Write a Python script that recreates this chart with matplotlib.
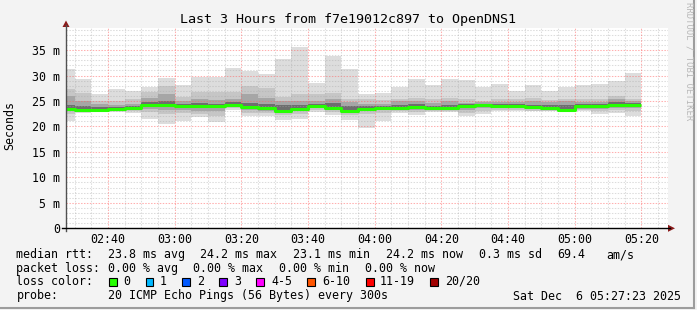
import matplotlib
matplotlib.use("Agg")
import matplotlib.pyplot as plt
from matplotlib.lines import Line2D
from matplotlib.patches import Polygon, Rectangle

# ---------------- data ----------------
title = "Last 3 Hours from f7e19012c897 to OpenDNS1"
slot_start = ["02:25", "02:30", "02:35", "02:40", "02:45", "02:50", "02:55",
              "03:00", "03:05", "03:10", "03:15", "03:20", "03:25", "03:30",
              "03:35", "03:40", "03:45", "03:50", "03:55", "04:00", "04:05",
              "04:10", "04:15", "04:20", "04:25", "04:30", "04:35", "04:40",
              "04:45", "04:50", "04:55", "05:00", "05:05", "05:10", "05:15"]
median_ms = [23.5, 23.2, 23.2, 23.4, 23.6, 24.2, 24.2, 24.0, 24.0, 24.0, 24.2, 23.8,
             23.6, 23.1, 23.5, 24.1, 23.6, 23.1, 23.4, 23.6, 23.7, 23.9, 23.6, 23.7,
             24.0, 24.2, 24.0, 24.1, 23.8, 23.7, 23.2, 24.0, 24.0, 24.2, 24.2]
ping_max = [31.3, 29.3, 26.3, 27.4, 27.0, 27.7, 29.6, 28.2, 29.8, 29.8, 31.5, 30.9,
            30.3, 33.3, 35.5, 28.6, 33.8, 31.3, 26.3, 26.6, 27.8, 29.3, 28.2, 29.3,
            29.1, 27.8, 28.4, 26.9, 28.2, 27.0, 27.8, 28.1, 28.4, 29.0, 30.4]
ping_q90 = [27.3, 26.6, 25.0, 25.0, 25.3, 26.7, 28.0, 25.7, 26.7, 26.7, 26.8, 27.9,
            27.6, 25.8, 26.3, 26.3, 26.6, 25.3, 25.4, 25.1, 25.4, 25.6, 25.3, 25.5,
            25.4, 25.0, 25.3, 25.3, 25.6, 25.1, 25.3, 25.3, 25.3, 26.0, 25.3]
ping_q75 = [25.9, 25.0, 24.4, 24.2, 24.5, 25.6, 26.3, 25.0, 25.3, 25.2, 25.4, 26.3,
            25.6, 25.0, 25.0, 25.0, 25.3, 24.8, 24.5, 24.5, 24.9, 25.0, 24.6, 25.0,
            24.7, 24.8, 24.8, 24.8, 24.9, 24.8, 25.0, 24.8, 24.8, 25.3, 25.0]
ping_q60 = [24.3, 24.0, 23.8, 23.8, 24.0, 24.8, 25.0, 24.5, 24.6, 24.5, 24.8, 24.7,
            24.5, 24.2, 24.2, 24.5, 24.7, 24.0, 24.0, 24.0, 24.3, 24.5, 24.1, 24.3,
            24.4, 24.5, 24.4, 24.5, 24.3, 24.2, 24.3, 24.4, 24.4, 24.8, 24.6]
ping_q40 = [23.3, 23.1, 23.1, 23.2, 23.4, 24.0, 24.0, 23.8, 23.6, 23.8, 24.1, 23.6,
            23.4, 23.0, 23.4, 24.0, 23.5, 23.0, 23.3, 23.5, 23.6, 23.7, 23.5, 23.6,
            23.8, 24.0, 23.9, 24.0, 23.7, 23.6, 23.1, 23.9, 23.9, 24.1, 24.1]
ping_q25 = [23.0, 22.9, 23.0, 23.1, 23.3, 23.5, 23.2, 23.3, 23.0, 23.0, 23.9, 23.2,
            23.1, 22.9, 23.1, 23.7, 23.3, 22.8, 23.1, 23.2, 23.3, 23.3, 23.3, 23.3,
            23.2, 23.6, 23.6, 23.7, 23.4, 23.3, 23.0, 23.5, 23.5, 23.7, 23.7]
ping_q10 = [22.5, 22.8, 22.9, 23.0, 23.0, 22.8, 22.5, 22.6, 22.4, 22.0, 23.7, 22.7,
            22.6, 22.3, 22.5, 23.3, 22.9, 22.2, 22.5, 22.6, 23.0, 22.8, 23.0, 23.0,
            22.6, 23.0, 23.3, 23.3, 23.1, 23.1, 22.9, 23.2, 23.0, 23.2, 23.0]
ping_min = [21.0, 22.6, 22.8, 22.9, 22.6, 21.5, 20.5, 21.1, 21.8, 20.9, 23.3, 22.1,
            22.1, 21.3, 21.5, 22.8, 22.3, 21.3, 19.7, 21.0, 22.7, 22.3, 22.8, 22.8,
            22.1, 22.5, 23.0, 23.0, 23.0, 23.0, 22.9, 23.0, 22.5, 22.7, 22.1]
x_tick_labels = ["02:40", "03:00", "03:20", "03:40", "04:00", "04:20", "04:40", "05:00", "05:20"]
y_tick_values = [0, 5, 10, 15, 20, 25, 30, 35]
window_start = "02:27:23"
window_minutes = 180

legend_rows = [
    [("median rtt:", 16.4), ("23.8 ms avg", 107.6), ("24.2 ms max", 200.0),
     ("23.1 ms min", 293.3), ("24.2 ms now", 386.4), ("0.3 ms sd", 479.3),
     ("69.4", 557.7), ("am/s", 606.7)],
    [("packet loss:", 16.4), ("0.00 % avg", 107.6), ("0.00 % max", 193.3),
     ("0.00 % min", 279.0), ("0.00 % now", 364.6)],
    [("loss color:", 16.4)],
    [("probe:", 16.4), ("20 ICMP Echo Pings (56 Bytes) every 300s", 107.6),
     ("Sat Dec  6 05:27:23 2025", 513.3)],
]
loss_labels = ["0", "1", "2", "3", "4-5", "6-10", "11-19", "20/20"]
loss_colors = ["#26ff00", "#00b8ff", "#0059ff", "#7e00ff", "#ff00ff", "#ff5500", "#ff0000", "#a00000"]
loss_box_x = [109.0, 145.8, 182.3, 219.3, 256.2, 307.2, 366.0, 430.0]
loss_text_x = [123.6, 160.0, 197.0, 234.0, 271.0, 321.8, 380.0, 445.0]

# ---------------- helpers ----------------
W, H = 697, 310
def hm(s):
    p = [int(v) for v in s.split(":")]
    return p[0] * 60 + p[1] + (p[2] / 60 if len(p) > 2 else 0)
def fx(px):
    return px / W
def fy(py):
    return 1 - py / H

MONO = "DejaVu Sans Mono"
FS = 8.4

starts = [hm(s) for s in slot_start]
x0 = hm(window_start)

fig = plt.figure(figsize=(W / 100, H / 100), dpi=100, facecolor="#f3f3f3")
ax_l, ax_r, ax_t, ax_b = 66, 668, 27.7, 228.3
ax = fig.add_axes([fx(ax_l), fy(ax_b), (ax_r - ax_l) / W, (ax_b - ax_t) / H])
ax.set_facecolor("white")
px_per_min = 600 / window_minutes
ax.set_xlim(x0, x0 + (ax_r - ax_l) / px_per_min)
ax.set_ylim(0, (ax_b - ax_t) / 5.093)
for s in ax.spines.values():
    s.set_visible(False)

# smoke bands
bands = [(ping_min, ping_max, "#dddddd"),
         (ping_q10, ping_q90, "#c6c6c6"),
         (ping_q25, ping_q75, "#a6a6a6"),
         (ping_q40, ping_q60, "#6e6e6e")]
for lo, hi, col in bands:
    ax.bar(starts, [h - l for l, h in zip(lo, hi)], bottom=lo, width=5, align="edge",
           color=col, linewidth=0, zorder=1)

# grid
xmin, xmax = ax.get_xlim()
ymin, ymax = ax.get_ylim()
dash = (0, (1.4, 1.4))
for v in range(1, int(ymax) + 1):
    major = v % 5 == 0
    ax.axhline(v, color="#ff6060" if major else "#a8a8a8", alpha=0.5 if major else 0.4,
               lw=0.75, ls=dash, zorder=2)
m = 150
while m < xmax:
    major = m % 20 == 0
    ax.axvline(m, color="#ff6060" if major else "#a8a8a8", alpha=0.5 if major else 0.4,
               lw=0.75, ls=dash, zorder=2)
    m += 5

# median line
edges = starts + [starts[-1] + 5]
ax.step(edges, median_ms + [median_ms[-1]], where="post", color="#26ff00", lw=2.2,
        zorder=4, solid_capstyle="butt")

# ticks
ax.set_yticks(y_tick_values)
ax.set_yticklabels([("%d m" % v) if v else "0" for v in y_tick_values],
                   fontfamily=MONO, fontsize=FS)
ax.set_xticks([hm(t) for t in x_tick_labels])
ax.set_xticklabels(x_tick_labels, fontfamily=MONO, fontsize=FS)
ax.tick_params(axis="y", length=0, pad=4.3)
ax.tick_params(axis="x", length=0, pad=3.2)

# axes lines + arrows (figure pixel coords)
fig.add_artist(Line2D([fx(66), fx(66)], [fy(ax_b + 3), fy(25)], color="#505050", lw=1.0))
fig.add_artist(Line2D([fx(62), fx(670)], [fy(ax_b), fy(ax_b)], color="#000000", lw=1.0))
fig.add_artist(Polygon([(fx(62.5), fy(27)), (fx(69.5), fy(27)), (fx(66), fy(20.5))],
                       closed=True, color="#8b1a1a", lw=0))
fig.add_artist(Polygon([(fx(668), fy(ax_b - 3.5)), (fx(668), fy(ax_b + 3.5)), (fx(675), fy(ax_b))],
                       closed=True, color="#8b1a1a", lw=0))

# frame
fig.add_artist(Line2D([fx(693.5), fx(693.5)], [fy(0), fy(308)], color="#9c9c9c", lw=1.5))
fig.add_artist(Line2D([fx(0), fx(694)], [fy(307.5), fy(307.5)], color="#9c9c9c", lw=1.5))

# title, labels, watermark
fig.text(fx(348.5), fy(19.3), title, fontfamily=MONO, fontsize=9.6, ha="center", va="center")
fig.text(fx(10), fy(125), "Seconds", fontfamily=MONO, fontsize=FS, rotation=90,
         ha="center", va="center")
fig.text(fx(689), fy(61), "RRDTOOL / TOBI OETIKER", fontfamily=MONO, fontsize=6.4,
         rotation=270, ha="center", va="center", color="#b8b8b8")

# legend
row_y = [254.5, 268.5, 281.5, 296.0]
for row, yy in zip(legend_rows, row_y):
    for txt, xx in row:
        fig.text(fx(xx), fy(yy), txt, fontfamily=MONO, fontsize=FS, ha="left", va="center")
for bx, tx, lab, col in zip(loss_box_x, loss_text_x, loss_labels, loss_colors):
    fig.add_artist(Rectangle((fx(bx), fy(285.5)), 7.5 / W, 8 / H, facecolor=col,
                             edgecolor="black", lw=0.8))
    fig.text(fx(tx), fy(row_y[2]), lab, fontfamily=MONO, fontsize=FS, ha="left", va="center")

fig.savefig("out.png", dpi=100, facecolor=fig.get_facecolor())
